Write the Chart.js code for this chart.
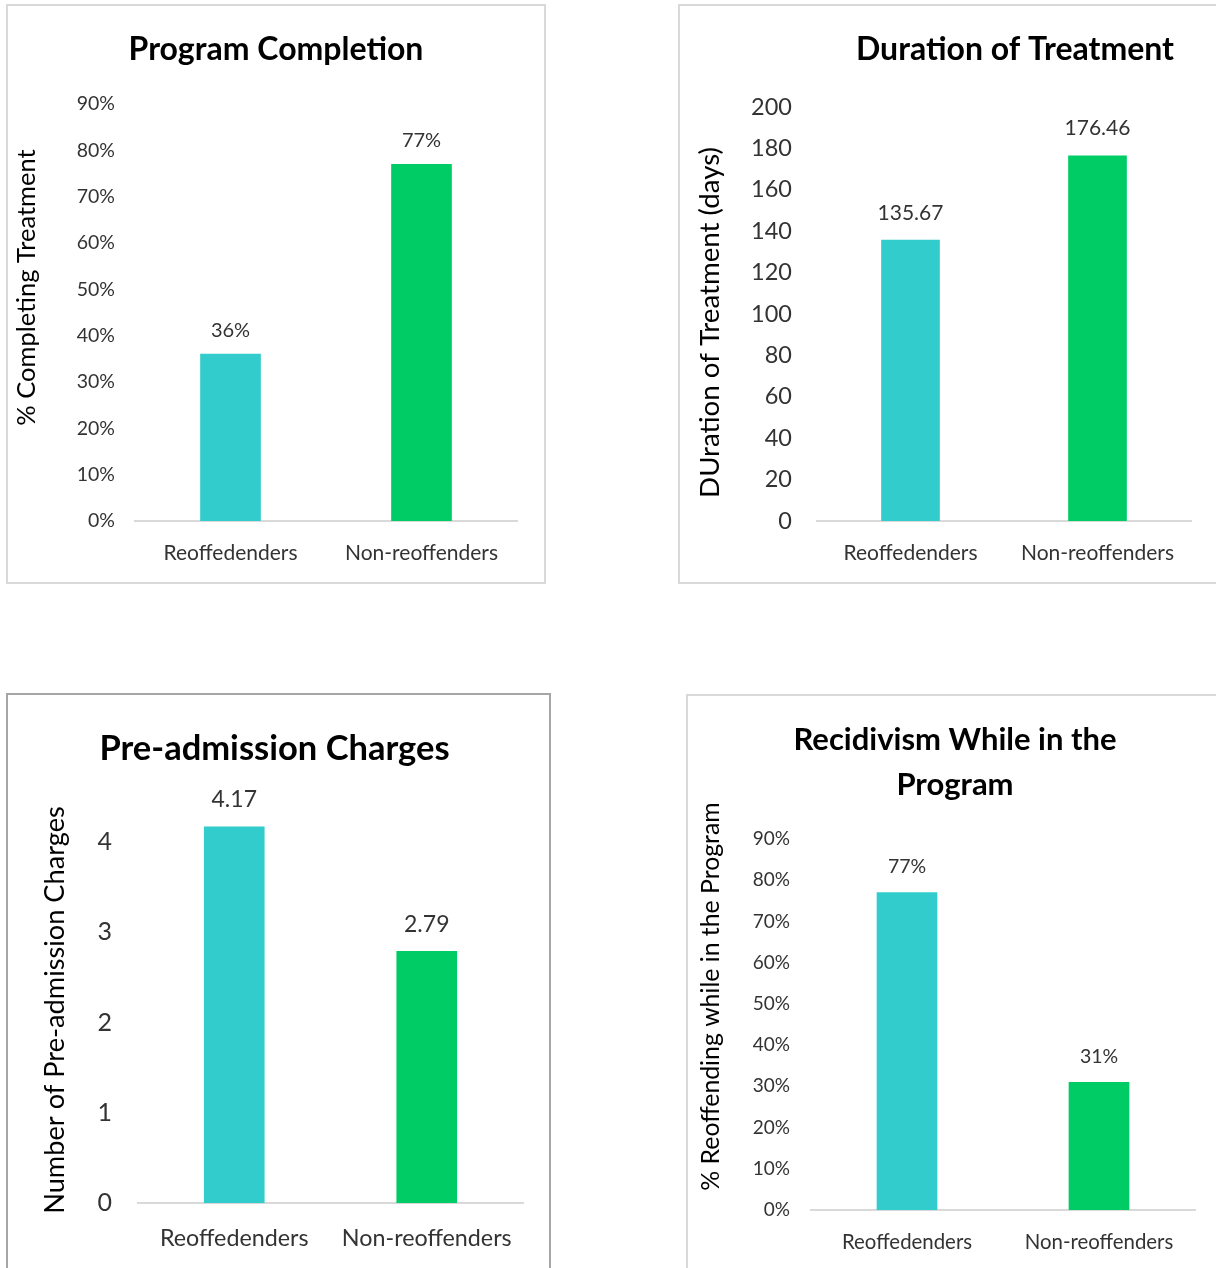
<!DOCTYPE html>
<html>
<head>
<meta charset="utf-8">
<title>Treatment outcomes: reoffenders vs non-reoffenders</title>
<script src="https://cdn.jsdelivr.net/npm/chart.js@4.4.1/dist/chart.umd.min.js"></script>
<style>
  html, body { margin: 0; padding: 0; background: #fff; width: 1216px; height: 1268px; overflow: hidden; }
  .frame { position: absolute; box-sizing: border-box; background: #fff; }
  canvas { position: absolute; }
</style>
</head>
<body>
<div class="frame" style="left:6px;top:4px;width:540px;height:580px;border:2px solid #d9d9d9"></div>
<div class="frame" style="left:678px;top:4px;width:700px;height:580px;border:2px solid #d9d9d9"></div>
<div class="frame" style="left:6px;top:693px;width:545px;height:640px;border:2px solid #a6a6a6"></div>
<div class="frame" style="left:686px;top:694px;width:540px;height:640px;border:2px solid #d9d9d9"></div>

<canvas id="completion" width="540" height="580" style="left:6px;top:4px"></canvas>
<canvas id="duration" width="674" height="580" style="left:678px;top:4px"></canvas>
<canvas id="charges" width="537" height="575" style="left:6px;top:693px"></canvas>
<canvas id="recidivism" width="538" height="574" style="left:686px;top:694px"></canvas>

<script>
// ---- data ----
const categories = ['Reoffedenders', 'Non-reoffenders'];
const completionPct = [36, 77];          // % completing treatment
const durationDays = [135.67, 176.46];   // mean days in treatment
const preAdmissionCharges = [4.17, 2.79];// mean number of charges before admission
const recidivismPct = [77, 31];          // % reoffending while in the program

const barColors = ['#33CCCC', '#00CC66'];
const FONT = "Lato, 'Noto Sans', 'DejaVu Sans', sans-serif";

Chart.defaults.font.family = FONT;
Chart.defaults.color = '#333';

// Writes each bar's value just above it.
const valueLabels = {
  id: 'valueLabels',
  afterDatasetsDraw(chart, args, opts) {
    const ctx = chart.ctx;
    const meta = chart.getDatasetMeta(0);
    const values = chart.data.datasets[0].data;
    ctx.save();
    ctx.font = `${opts.size}px ${FONT}`;
    ctx.fillStyle = opts.color || '#333';
    ctx.textAlign = 'center';
    ctx.textBaseline = 'middle';
    meta.data.forEach((bar, i) => {
      ctx.fillText(opts.format(values[i]), bar.x, bar.y - opts.offset);
    });
    ctx.restore();
  }
};

// Slides the value-axis title along the axis while the axes are painted,
// so it sits centred on the whole plot block rather than on the tick range.
// The axis is put back before the bars are drawn.
const axisTitleShift = {
  id: 'axisTitleShift',
  beforeDraw(chart, args, opts) {
    const s = chart.scales.y;
    if (s && opts.shift) { s.top += opts.shift; s.bottom += opts.shift; s._titleShifted = true; }
  },
  beforeDatasetsDraw(chart, args, opts) {
    const s = chart.scales.y;
    if (s && s._titleShifted) { s.top -= opts.shift; s.bottom -= opts.shift; s._titleShifted = false; }
  }
};

function barChart(id, c) {
  const canvas = document.getElementById(id);
  const W = canvas.width;
  const yTitleLine = c.yTitleSize * 1.2;
  return new Chart(canvas, {
    type: 'bar',
    data: {
      labels: categories,
      datasets: [{
        data: c.values,
        backgroundColor: barColors,
        borderWidth: 0,
        barThickness: c.barWidth,
        yAxisID: 'y'
      }]
    },
    options: {
      responsive: false,
      animation: false,
      events: [],
      layout: { padding: { left: 0, right: 0, top: 0, bottom: c.padBottom } },
      plugins: {
        legend: { display: false },
        tooltip: { enabled: false },
        title: {
          display: true,
          text: c.title,
          color: '#000',
          font: { family: FONT, size: c.titleSize, weight: 'bold', lineHeight: c.titleLine || 1.2 },
          padding: c.titlePad
        },
        valueLabels: { size: c.labelSize, offset: c.labelOffset, format: c.format },
        axisTitleShift: { shift: c.yTitleShift }
      },
      scales: {
        x: {
          grid: { display: false, drawTicks: false },
          border: { display: true, color: '#d9d9d9', width: 2 },
          ticks: { color: '#333', font: { size: c.catSize }, padding: c.catPad, maxRotation: 0 },
          afterFit: s => { s.height = c.xHeight; }
        },
        y: {
          min: 0,
          max: c.max,
          grid: { display: false, drawTicks: false },
          border: { display: false },
          ticks: {
            stepSize: c.step,
            includeBounds: false,
            color: '#333',
            font: { size: c.tickSize },
            padding: c.tickPad,
            callback: c.tickFormat
          },
          title: {
            display: true,
            text: c.yTitle,
            color: '#000',
            font: { size: c.yTitleSize, lineHeight: 1.2 },
            padding: { top: c.yTitleX - yTitleLine / 2, bottom: 0 }
          },
          afterFit: s => { s.width = c.chartLeft; }
        },
        // empty right-hand margin beside the plot
        gap: {
          type: 'linear',
          position: 'right',
          grid: { display: false, drawTicks: false },
          border: { display: false },
          ticks: { display: false },
          afterFit: s => { s.width = W - c.chartRight; }
        }
      }
    },
    plugins: [valueLabels, axisTitleShift]
  });
}

const pct = v => v + '%';

barChart('completion', {
  values: completionPct, title: 'Program Completion', yTitle: '% Completing Treatment',
  max: 90, step: 10, tickFormat: pct, format: pct,
  chartLeft: 129, chartRight: 511, padBottom: 8,
  titleSize: 32, titlePad: { top: 26.8, bottom: 34.8 },
  tickSize: 19.5, tickPad: 20, yTitleSize: 25.5, yTitleX: 21, yTitleShift: -25,
  xHeight: 55, catSize: 21, catPad: 19.4,
  barWidth: 60, labelSize: 20, labelOffset: 24
});

barChart('duration', {
  values: durationDays, title: 'Duration of Treatment', yTitle: 'DUration of Treatment (days)',
  max: 200, step: 20, tickFormat: v => v, format: v => v.toFixed(2),
  chartLeft: 139, chartRight: 513, padBottom: 8,
  titleSize: 32, titlePad: { top: 26.8, bottom: 37.8 },
  tickSize: 23.5, tickPad: 25, yTitleSize: 27.7, yTitleX: 32, yTitleShift: 8.5,
  xHeight: 55, catSize: 21, catPad: 19.4,
  barWidth: 58, labelSize: 21, labelOffset: 27
});

barChart('charges', {
  values: preAdmissionCharges, title: 'Pre-admission Charges', yTitle: 'Number of Pre-admission Charges',
  max: 4.5, step: 1, tickFormat: v => v, format: v => v.toFixed(2),
  chartLeft: 132, chartRight: 517, padBottom: 0,
  titleSize: 34.5, titlePad: { top: 35.3, bottom: 27.3 },
  tickSize: 25, tickPad: 26, yTitleSize: 27.2, yTitleX: 49, yTitleShift: 10,
  xHeight: 65, catSize: 23.3, catPad: 21,
  barWidth: 60, labelSize: 23, labelOffset: 27
});

barChart('recidivism', {
  values: recidivismPct, title: ['Recidivism While in the', 'Program'], yTitle: '% Reoffending while in the Program',
  max: 90, step: 10, tickFormat: pct, format: pct,
  chartLeft: 125, chartRight: 509, padBottom: 0,
  titleSize: 31, titleLine: 1.452, titlePad: { top: 23.5, bottom: 31.5 },
  tickSize: 19, tickPad: 21, yTitleSize: 24.8, yTitleX: 25, yTitleShift: -28,
  xHeight: 58, catSize: 20.4, catPad: 19.75,
  barWidth: 60, labelSize: 19.5, labelOffset: 26
});
</script>
</body>
</html>
